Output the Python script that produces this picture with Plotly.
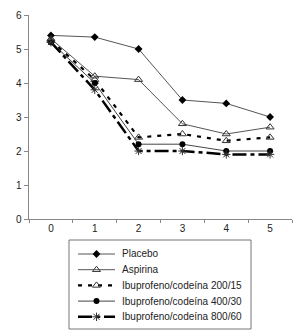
import plotly.graph_objects as go

categories = ["0", "1", "2", "3", "4", "5"]
placebo = [5.4, 5.35, 5.0, 3.5, 3.4, 3.0]
aspirina = [5.3, 4.2, 4.1, 2.8, 2.5, 2.7]
ibu_200 = [5.25, 4.1, 2.4, 2.5, 2.3, 2.4]
ibu_400 = [5.2, 4.0, 2.2, 2.2, 2.0, 2.0]
ibu_800 = [5.2, 3.8, 2.0, 2.0, 1.9, 1.9]
y_ticks = [0, 1, 2, 3, 4, 5, 6]

names = ["Placebo", "Aspirina", "Ibuprofeno/codeína 200/15",
         "Ibuprofeno/codeína 400/30", "Ibuprofeno/codeína 800/60"]
series = [placebo, aspirina, ibu_200, ibu_400, ibu_800]

styles = [
    dict(line=dict(color="#555", width=1),
         marker=dict(symbol="diamond", size=6, color="black")),
    dict(line=dict(color="#555", width=1),
         marker=dict(symbol="triangle-up-open", size=7, color="#333", line=dict(width=1))),
    dict(line=dict(color="black", width=2.2, dash="4px,6px"),
         marker=dict(symbol="triangle-up-open", size=7, color="#333", line=dict(width=1))),
    dict(line=dict(color="#444", width=1),
         marker=dict(symbol="circle", size=6, color="black")),
    dict(line=dict(color="black", width=2.5, dash="14px,4px,4px,4px"),
         marker=dict(symbol="asterisk-open", size=7, color="#333", line=dict(width=1, color="#333"))),
]

fig = go.Figure()
for name, vals, st in zip(names, series, styles):
    fig.add_trace(go.Scatter(x=categories, y=vals, name=name, mode="lines+markers",
                             xaxis="x", yaxis="y", showlegend=False, **st))

# y tick labels placed on the y scale from the tick list
for v in y_ticks:
    fig.add_annotation(x=0, xref="x domain", y=v, yref="y", text=str(v), showarrow=False,
                       xanchor="right", yanchor="middle", xshift=-5,
                       font=dict(size=10, color="#222"))

# Manual legend drawn in a helper subplot below the chart
box_w, box_h = 182, 89
row_y = [14, 29.7, 45.4, 61.1, 76.8]
for name, st, ry in zip(names, styles, row_y):
    fig.add_trace(go.Scatter(x=[9, 46], y=[ry, ry], mode="lines", line=st["line"],
                             xaxis="x2", yaxis="y2", showlegend=False, hoverinfo="skip"))
    fig.add_trace(go.Scatter(x=[27.5], y=[ry], mode="markers", marker=st["marker"],
                             xaxis="x2", yaxis="y2", showlegend=False, hoverinfo="skip"))
    fig.add_annotation(x=51, y=ry, xref="x2", yref="y2", text=name, showarrow=False,
                       xanchor="left", yanchor="middle",
                       font=dict(size=10, color="#222"))
fig.add_shape(type="rect", xref="x2 domain", yref="y2 domain", x0=0, x1=1, y0=0, y1=1,
              line=dict(color="#777", width=1))

H = 336
t, b, l, r = 15, 7, 29, 8
ph = H - t - b
main_bottom = 219
leg_top, leg_bot = 240, 329
pw = 300 - l - r

fig.update_layout(
    width=300, height=H,
    margin=dict(l=l, r=r, t=t, b=b),
    paper_bgcolor="white", plot_bgcolor="white",
    font=dict(family="Arial", size=10, color="#222"),
    showlegend=False,
    xaxis=dict(type="category", range=[-0.5, 5.5], showgrid=False, zeroline=False,
               showline=True, linecolor="#888", linewidth=1, anchor="y",
               ticks="outside", tickson="boundaries", ticklen=3, tickcolor="#888"),
    yaxis=dict(range=[0, 6], tickmode="array", tickvals=y_ticks, showticklabels=False,
               showgrid=False, zeroline=False,
               showline=True, linecolor="#888", linewidth=1, anchor="x",
               domain=[(H - b - main_bottom) / ph, 1],
               ticks="outside", ticklen=4, tickcolor="#888"),
    xaxis2=dict(range=[0, box_w], visible=False, anchor="y2",
                domain=[(69 - l) / pw, (251 - l) / pw]),
    yaxis2=dict(range=[box_h, 0], visible=False, anchor="x2",
                domain=[(H - b - leg_bot) / ph, (H - b - leg_top) / ph]),
)

fig.write_html("out.html")
